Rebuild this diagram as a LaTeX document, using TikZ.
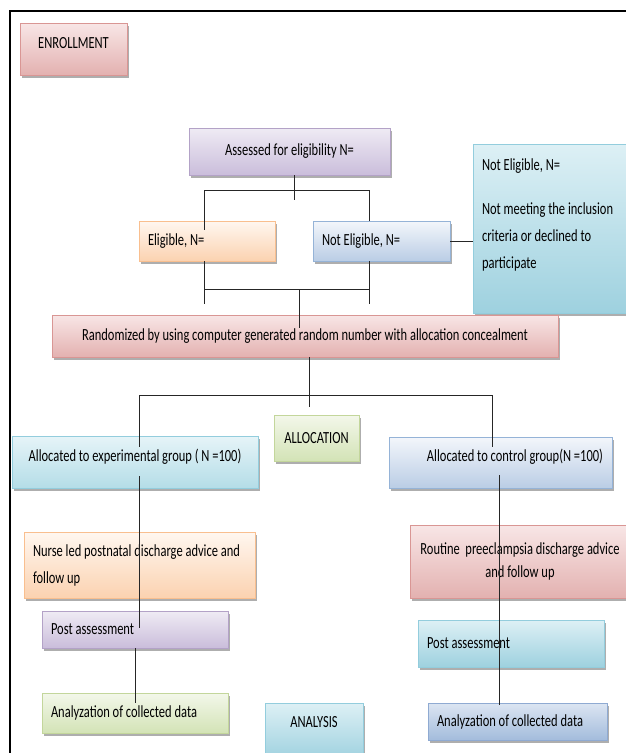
\documentclass[tikz,border=0pt]{standalone}
\usepackage{fontspec}
\setmainfont{Carlito}[FakeStretch=0.735]
\usetikzlibrary{calc,shadows}
\definecolor{pinkline}{HTML}{D99694}
\definecolor{pinktop}{HTML}{F8E6E6}
\definecolor{pinkbot}{HTML}{E3B1B0}
\definecolor{purpleline}{HTML}{B3A2C7}
\definecolor{purpletop}{HTML}{EFEBF4}
\definecolor{purplebot}{HTML}{CABDDB}
\definecolor{orangeline}{HTML}{F9BF8F}
\definecolor{orangetop}{HTML}{FFF7F0}
\definecolor{orangebot}{HTML}{FBD2B0}
\definecolor{blueline}{HTML}{95B3D7}
\definecolor{bluetop}{HTML}{F3F6FB}
\definecolor{bluebot}{HTML}{BACDE5}
\definecolor{tealline}{HTML}{93CDDD}
\definecolor{tealtop}{HTML}{DDF0F5}
\definecolor{tealbot}{HTML}{9ED1DF}
\definecolor{cyanline}{HTML}{93CDDD}
\definecolor{cyantop}{HTML}{E6F4F8}
\definecolor{cyanbot}{HTML}{B4DDE7}
\definecolor{greenline}{HTML}{C3D69B}
\definecolor{greentop}{HTML}{F3F7EA}
\definecolor{greenbot}{HTML}{D3E3B6}
\definecolor{steelline}{HTML}{8FAAD2}
\definecolor{steeltop}{HTML}{DCE5F2}
\definecolor{steelbot}{HTML}{A3BCDC}
\tikzset{
  bx/.style={draw=#1line, line width=0.8pt, top color=#1top, bottom color=#1bot,
             drop shadow={shadow xshift=2pt, shadow yshift=-3pt, fill=black!45,
                          opacity=.7},
             inner xsep=9pt, inner ysep=3pt, font=\fontsize{17}{27}\selectfont},
  lnk/.style={line width=0.8pt, draw=black!85},
}

\begin{document}
\begin{tikzpicture}[x=1pt, y=-1pt]
\path[use as bounding box, fill=white] (0,0) rectangle (626,753);
\clip (0,0) rectangle (626,753);
\draw[line width=1.8pt] (626,11) -- (10,11) -- (10,753);

% ------------------------- enrollment -----------------------------------
\node[bx=pink, minimum width=107pt, minimum height=52pt, text depth=12pt]
   at (73.5,49) (enroll) {ENROLLMENT};
\node[bx=purple, minimum width=201pt, minimum height=47pt] at (289.5,151.5) (assess)
   {Assessed for eligibility N=};
\node[bx=orange, text width=118pt, align=flush left, minimum height=40pt] at (207,241) (elig)
   {Eligible, N=};
\node[bx=blue, text width=119pt, align=flush left, minimum height=40pt] at (381.5,241) (nelig)
   {Not Eligible, N=};
\node[bx=teal, text width=159pt, align=flush left, minimum height=169pt] at (561.5,228.5) (side)
   {Not Eligible, N=\\[17pt] Not meeting the inclusion\\criteria or declined to\\
    participate\\[3pt]\mbox{}};
\node[bx=pink, minimum width=506pt, minimum height=42pt] at (305,336) (rand)
   {Randomized by using computer generated random number with allocation concealment};

\coordinate (tm) at (294,200);
\coordinate (ta) at (204,190);
\coordinate (tb) at (369,190);
\draw[lnk] (assess.south -| tm) -- (tm);
\draw[lnk] ($(elig.north -| ta)+(0,9)$) -- (ta) -- (tb) -- (nelig.north -| tb);
\coordinate (ba) at (204,304);
\coordinate (bb) at (369,304);
\coordinate (bm) at (299,289);
\draw[lnk] (elig.south -| ba) -- (ba);
\draw[lnk] (nelig.south -| bb) -- (bb);
\draw[lnk] (bm -| ba) -- (bm -| bb);
\draw[lnk] (bm) -- ($(rand.north -| bm)+(0,13)$);
\draw[lnk] (nelig.east) -- (side.west |- nelig.east);

% ------------------------- allocation -----------------------------------
\node[bx=green, minimum width=85pt, minimum height=46pt] at (316.5,438) (alloc)
   {ALLOCATION};
\node[bx=cyan, minimum width=246pt, minimum height=52pt, text depth=14pt]
   at (135,462) (exp) {Allocated to experimental group ( N =100)};
\node[bx=blue, text width=205pt, align=flush right, minimum height=51pt, text depth=14pt]
   at (500.5,462.5) (ctrl) {Allocated to control group(N =100)};

\coordinate (am) at (309,407);
\coordinate (al) at (139,395);
\coordinate (ar) at (492,395);
\draw[lnk] (rand.south -| am) -- (am);
\draw[lnk] ($(exp.north -| al)+(0,11)$) -- (al) -- (ar) -- ($(ctrl.north -| ar)+(0,10)$);

% ------------------------- follow up ------------------------------------
\node[bx=orange, text width=213pt, align=flush left, minimum height=66pt] at (139.5,565) (nurse)
   {Nurse led postnatal discharge advice and\\follow up};
\node[bx=purple, text width=168pt, align=flush left, minimum height=37pt] at (135,629.5) (postL)
   {Post assessment};
\node[bx=green, text width=168pt, align=flush left, minimum height=40pt] at (135,713) (anaL)
   {Analyzation of collected data};
\node[bx=pink, text width=202pt, align=flush center, minimum height=73pt,
      font=\fontsize{17}{23}\selectfont] at (520,561.5) (routine)
   {Routine\ \ preeclampsia discharge advice\\and follow up};
\node[bx=teal, text width=168pt, align=flush left, minimum height=47pt] at (511,643.5) (postR)
   {Post assessment};
\node[bx=steel, text width=161pt, align=flush left, minimum height=37pt] at (517.5,721.5) (anaR)
   {Analyzation of collected data};
\node[bx=teal, minimum width=98pt, minimum height=57pt, text depth=19pt]
   at (314,731.5) (analysis) {ANALYSIS};

\coordinate (lx) at (139,0);
\coordinate (rx) at (499,0);
\draw[lnk] ($(exp.south -| lx)+(0,-12)$) -- ($(postL.north -| lx)+(0,17)$);
\draw[lnk] (postL.south) -- ($(anaL.north)+(0,10)$);
\draw[lnk] ($(ctrl.south -| rx)+(0,-13)$) -- ($(anaR.north -| rx)+(0,2)$);
\end{tikzpicture}
\end{document}
